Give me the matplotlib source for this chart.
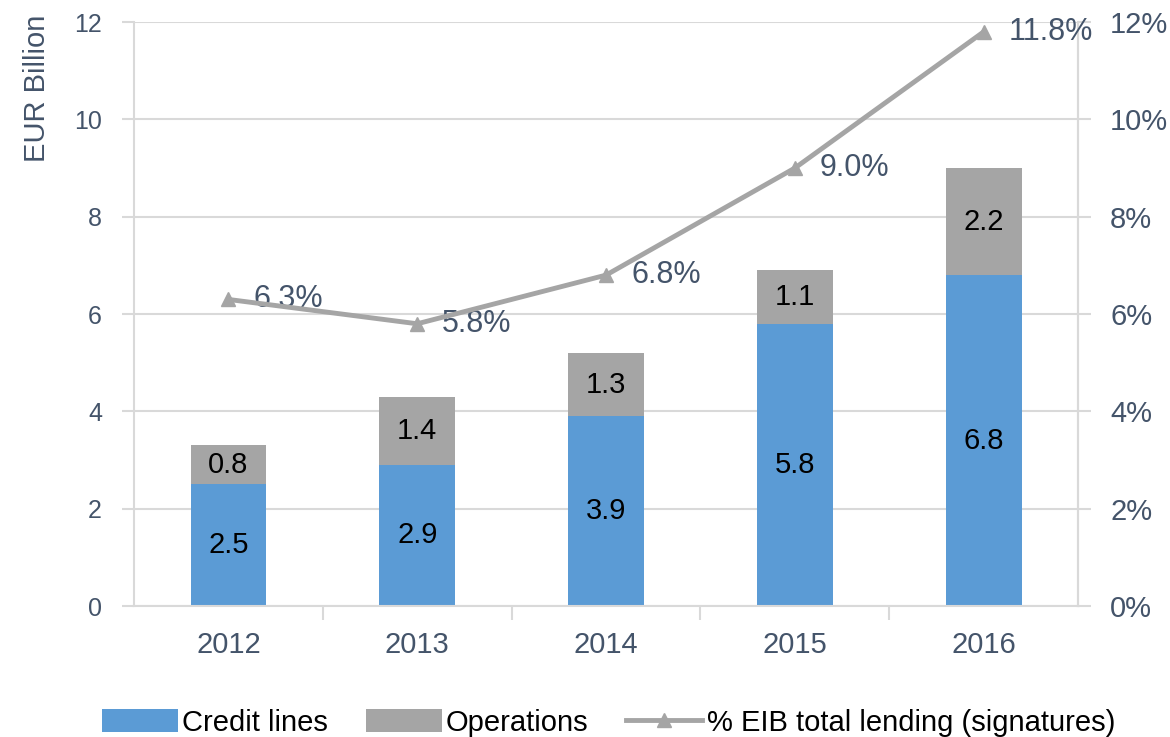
import matplotlib.pyplot as plt
import matplotlib.ticker as mticker
import numpy as np

plt.rcParams['font.family'] = ['Liberation Sans', 'DejaVu Sans']

years = ["2012", "2013", "2014", "2015", "2016"]
credit_lines = [2.5, 2.9, 3.9, 5.8, 6.8]
operations = [0.8, 1.4, 1.3, 1.1, 2.2]
eib_share = [6.3, 5.8, 6.8, 9.0, 11.8]

BLUE = "#5B9BD5"
GRAY = "#A5A5A5"
GRID = "#D9D9D9"
TXT = "#44546A"

fig = plt.figure(figsize=(11.7, 7.37), dpi=100)
ax = fig.add_axes([0.1145, 0.1777, 0.807, 0.7924])
x = np.arange(len(years))
w = 0.40

b1 = ax.bar(x, credit_lines, w, color=BLUE, label="Credit lines", zorder=2)
b2 = ax.bar(x, operations, w, bottom=credit_lines, color=GRAY, label="Operations", zorder=2)
for i in range(len(years)):
    ax.text(x[i], credit_lines[i] / 2, f"{credit_lines[i]:.1f}", ha="center", va="center",
            fontsize=21, color="black", zorder=3)
    ax.text(x[i], credit_lines[i] + operations[i] / 2, f"{operations[i]:.1f}", ha="center", va="center",
            fontsize=21, color="black", zorder=3)

ax.set_xlim(-0.5, 4.5)
ax.set_ylim(0, 12)
ax.set_yticks(range(0, 13, 2))
ax.set_xticks(x)
ax.set_xticklabels(years)
ax.set_xticks(np.arange(0.5, 4.5, 1), minor=True)
ax.grid(axis="y", color=GRID, linewidth=1.5, zorder=0)
ax.spines["top"].set_visible(False)
for s in ["left", "right", "bottom"]:
    ax.spines[s].set_color(GRID)
    ax.spines[s].set_linewidth(1.5)
ax.tick_params(axis="y", labelsize=18, colors=TXT, length=9, color=GRID, width=1.5, pad=14)
ax.tick_params(axis="x", which="major", labelsize=21, colors=TXT, length=0, pad=18)
ax.tick_params(axis="x", which="minor", length=10, color=GRID, width=1.5)
fig.text(0.032, 0.98, "EUR Billion", rotation=90, ha="center", va="top", fontsize=21, color=TXT)

ax2 = ax.twinx()
ax2.set_ylim(0, 12)
ax2.set_yticks(range(0, 13, 2))
ax2.yaxis.set_major_formatter(mticker.FuncFormatter(lambda v, p: f"{int(v)}%"))
ax2.tick_params(axis="y", labelsize=21, colors=TXT, length=9, color=GRID, width=1.5, pad=14)
for s in ["top", "left", "bottom"]:
    ax2.spines[s].set_visible(False)
ax2.spines["right"].set_color(GRID)
ax2.spines["right"].set_linewidth(1.5)
ln, = ax2.plot(x, eib_share, color=GRAY, linewidth=3.5, marker="^", markersize=10,
               label="% EIB total lending (signatures)", zorder=4)
for i, v in enumerate(eib_share):
    ax2.annotate(f"{v:.1f}%", (x[i], v), xytext=(18, 0), textcoords="offset points",
                 ha="left", va="center", fontsize=22, color=TXT)

fig.legend(handles=[b1, b2, ln], loc="lower center", bbox_to_anchor=(0.52, -0.035), ncol=3,
           frameon=False, fontsize=21, handlelength=2.6, handleheight=0.8,
           columnspacing=1.3, handletextpad=0.15)

fig.savefig("out.png", dpi=100)
